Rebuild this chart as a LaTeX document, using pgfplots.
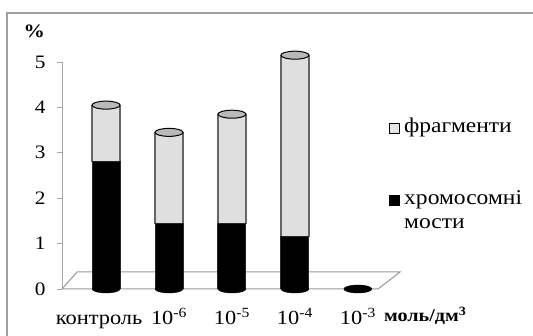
\documentclass[border=0pt]{standalone}
\usepackage{fontspec}
\setmainfont{Liberation Serif}[FakeStretch=1.12]
\usepackage{pgfplots}
\usepackage{pgfplotstable}
\pgfplotsset{compat=1.18}
\pgfdeclareplotmark{ellip}{\pgfpathellipse{\pgfpointorigin}{\pgfqpoint{14pt}{0pt}}{\pgfqpoint{0pt}{4pt}}\pgfusepathqfillstroke}
\pgfplotstableread{
x bridges fragments total
0 2.8  1.25 4.05
1 1.45 2.0  3.45
2 1.45 2.4  3.85
3 1.15 4.0  5.15
4 0    0    0
}\data
\pgfplotstableread{
x total
0 4.05
1 3.45
2 3.85
3 5.15
}\tops
\begin{document}
\begin{tikzpicture}[x=1pt,y=1pt]
% outer frame
\draw[gray!75, line width=1.3pt] (7,-10) -- (7,323) -- (545,323);
% floor
\draw[gray!80, line width=1pt, fill=white] (62,47) -- (378,47) -- (400,64) -- (77,64) -- cycle;
\begin{axis}[
  at={(62pt,47pt)}, anchor=south west, scale only axis,
  width=316pt, height=227pt,
  xmin=-0.70, xmax=4.32, ymin=0, ymax=5,
  ybar stacked, bar width=28pt,
  clip=false,
  separate axis lines,
  axis x line*=bottom, axis y line*=left,
  x axis line style={draw=none},
  y axis line style={gray!70, line width=1pt},
  xtick={0,1,2,3,4},
  xticklabels={{контроль\hspace*{14pt}}, 10\textsuperscript{-6}, 10\textsuperscript{-5}, 10\textsuperscript{-4}, 10\textsuperscript{-3}},
  xtick style={draw=none},
  xticklabel style={font=\fontsize{20}{20}\selectfont, anchor=base, yshift=-31pt},
  ytick={0,1,2,3,4,5},
  ytick style={gray!70, line width=0.8pt},
  tick align=outside, major tick length=5pt,
  yticklabel style={font=\fontsize{19}{19}\selectfont, xshift=-8pt},
  /pgf/number format/assume math mode=true,
  xlabel={моль/дм\textsuperscript{3}},
  every axis x label/.style={at={(axis cs:4.36,-0.72)}, anchor=base west, font=\bfseries\fontsize{18}{18}\selectfont},
  ylabel={\%},
  every axis y label/.style={at={(axis cs:-1.14,5.68)}, anchor=center, font=\bfseries\fontsize{19}{19}\selectfont},
  legend style={at={(rel axis cs:1.033,0.751)}, anchor=north west, draw=none, fill=none,
    font=\fontsize{21}{21}\selectfont, row sep=4pt, column sep=5pt, inner sep=0pt,
    nodes={inner sep=0pt, text height=14pt, text depth=6pt}},
  legend cell align=left,
]
\addplot[forget plot, draw=black!85, line width=1pt, fill=black] table[x=x, y=bridges] {\data};
\addplot[forget plot, draw=black!60, line width=1.2pt, fill=gray!25] table[x=x, y=fragments] {\data};
\addlegendimage{legend image code/.code={\draw[black, line width=0.6pt, fill=gray!20] (0pt,-5pt) rectangle (10pt,5pt);}}
\addlegendentry{фрагменти}
\addlegendimage{empty legend}\addlegendentry{}
\addlegendimage{empty legend}\addlegendentry{}
\addlegendimage{legend image code/.code={\draw[black, line width=0.6pt, fill=black] (0pt,-5pt) rectangle (10pt,5pt);}}
\addlegendentry{хромосомні}
\addlegendimage{empty legend}\addlegendentry{мости}
\end{axis}
\begin{axis}[
  at={(62pt,47pt)}, anchor=south west, scale only axis,
  width=316pt, height=227pt,
  xmin=-0.70, xmax=4.32, ymin=0, ymax=5,
  hide axis, clip=false,
]
\addplot[only marks, mark=ellip, mark options={fill=black, draw=black}] table[x=x, y expr=0] {\data};
\addplot[only marks, mark=ellip, mark options={fill=gray!55, draw=black, line width=1pt}] table[x=x, y=total] {\tops};
\end{axis}
\pgfresetboundingbox
\useasboundingbox (0,0) rectangle (533,336);
\end{tikzpicture}
\end{document}
